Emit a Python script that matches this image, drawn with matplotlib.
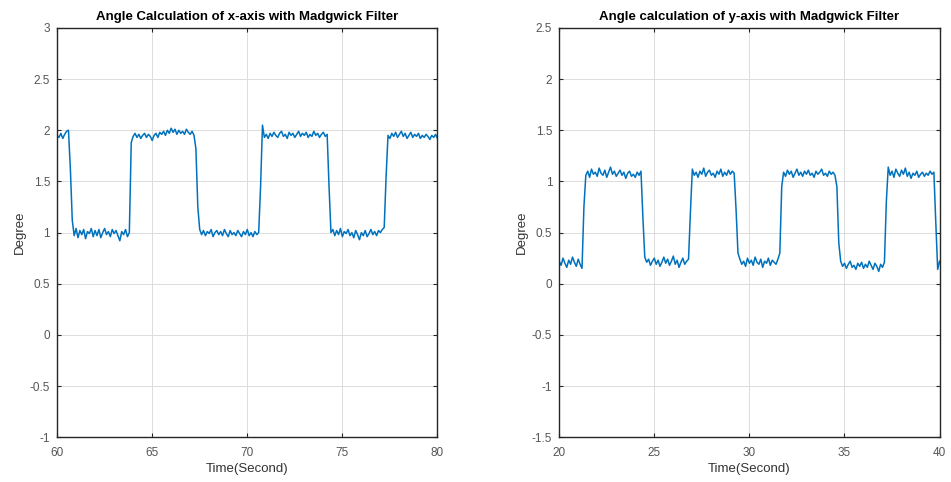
import matplotlib.pyplot as plt
import numpy as np

x_angle = [
    1.95, 1.93, 1.97, 1.92, 1.96, 1.99, 2.00,
    1.62, 1.12,
    0.97, 1.04, 0.95, 1.02, 0.98, 1.03, 0.94, 1.01, 0.99, 1.04,
    0.96, 1.02, 0.97, 1.03, 0.95, 1.00, 1.04, 0.98, 1.01, 0.96,
    1.03, 0.99, 1.02, 0.97, 0.92, 1.01, 0.98, 1.03, 0.96, 1.00,
    1.88,
    1.94, 1.97, 1.93, 1.96, 1.92, 1.95, 1.97, 1.93, 1.96, 1.94,
    1.90, 1.95, 1.97, 1.93, 1.98, 1.96, 1.99, 1.95, 2.00, 1.97,
    2.02, 1.98, 2.01, 1.96, 2.00, 1.97, 1.99, 1.96, 2.01, 1.98,
    1.96, 1.99, 1.95,
    1.82, 1.25,
    1.03, 0.98, 1.02, 0.97, 1.01, 0.99, 1.03, 0.96, 1.00, 1.02,
    0.98, 1.01, 0.97, 1.03, 0.99, 0.96, 1.02, 0.98, 1.00, 0.97,
    1.02, 0.99, 0.96, 1.01, 0.98, 1.03, 0.97, 1.00, 0.96, 1.01,
    0.98, 1.00,
    1.45, 2.05,
    1.93, 1.96, 1.92, 1.97, 1.94, 1.98, 1.95, 1.93, 1.97, 1.99,
    1.94, 1.96, 1.92, 1.98, 1.95, 1.97, 1.93, 1.96, 1.99, 1.94,
    1.97, 1.95, 1.98, 1.93, 1.96, 1.94, 1.99, 1.95, 1.97, 1.93,
    1.96, 1.98, 1.94, 1.96,
    1.45, 1.00,
    1.03, 0.97, 1.02, 0.98, 1.04, 0.96, 1.01, 0.99, 1.03, 0.97,
    1.00, 0.95, 1.02, 0.98, 0.93, 1.00, 0.97, 1.02, 0.96, 0.99,
    1.03, 0.98, 1.01, 0.97, 1.02, 1.00, 1.03, 1.05,
    1.55,
    1.95, 1.92, 1.97, 1.94, 1.98, 1.93, 1.96, 1.99, 1.94, 1.97,
    1.92, 1.95, 1.98, 1.93, 1.96, 1.94, 1.97, 1.92, 1.95, 1.93,
    1.96, 1.94, 1.91, 1.95, 1.93, 1.96, 1.92,
]

# y-axis angle, sampled every 0.1 s from 20 s to 40 s
y_angle = [
    0.22, 0.18, 0.25, 0.20, 0.16, 0.23, 0.19, 0.26, 0.21, 0.17, 0.24, 0.19, 0.15,
    0.75,
    1.06, 1.10, 1.04, 1.12, 1.07, 1.09, 1.05, 1.13, 1.08, 1.06,
    1.11, 1.04, 1.09, 1.14, 1.07, 1.10, 1.05, 1.08, 1.11, 1.06,
    1.09, 1.03, 1.08, 1.10, 1.05, 1.07, 1.04, 1.09, 1.06, 1.10,
    0.65,
    0.26, 0.21, 0.24, 0.18, 0.22, 0.25, 0.19, 0.23, 0.17, 0.21,
    0.26, 0.20, 0.24, 0.18, 0.22, 0.27, 0.19, 0.23, 0.16, 0.21,
    0.25, 0.19, 0.22, 0.24,
    0.70,
    1.12, 1.06, 1.09, 1.04, 1.10, 1.07, 1.13, 1.05, 1.09, 1.11,
    1.06, 1.08, 1.04, 1.10, 1.07, 1.12, 1.05, 1.09, 1.06, 1.11,
    1.07, 1.10, 1.08,
    0.72, 0.30,
    0.24, 0.19, 0.22, 0.17, 0.25, 0.20, 0.23, 0.18, 0.26, 0.21,
    0.19, 0.24, 0.16, 0.22, 0.20, 0.25, 0.18, 0.23, 0.21, 0.19, 0.24,
    0.30, 0.95,
    1.09, 1.05, 1.11, 1.07, 1.10, 1.04, 1.08, 1.12, 1.06, 1.09,
    1.05, 1.10, 1.07, 1.11, 1.06, 1.08, 1.04, 1.10, 1.07, 1.09,
    1.12, 1.06, 1.08, 1.05, 1.10, 1.07, 1.09, 1.06,
    0.95, 0.40,
    0.22, 0.17, 0.20, 0.15, 0.19, 0.22, 0.16, 0.18, 0.14, 0.20,
    0.17, 0.21, 0.15, 0.19, 0.16, 0.22, 0.18, 0.14, 0.20, 0.17,
    0.12, 0.19, 0.16, 0.21,
    0.80,
    1.14, 1.06, 1.10, 1.04, 1.12, 1.08, 1.05, 1.11, 1.07, 1.13,
    1.05, 1.09, 1.03, 1.08, 1.06, 1.10, 1.04, 1.07, 1.09, 1.05,
    1.08, 1.06, 1.10, 1.07, 1.09,
    0.60, 0.14, 0.22,
]

x_time = np.linspace(60, 80, len(x_angle))
y_time = np.linspace(20, 40, len(y_angle))

x_ticks = [60, 65, 70, 75, 80]
x_yticks = [-1, -0.5, 0, 0.5, 1, 1.5, 2, 2.5, 3]
y_ticks = [20, 25, 30, 35, 40]
y_yticks = [-1.5, -1, -0.5, 0, 0.5, 1, 1.5, 2, 2.5]

plt.rcParams['font.family'] = ['Liberation Sans', 'DejaVu Sans']

fig = plt.figure(figsize=(9.51, 4.82), dpi=100)
ax1 = fig.add_axes([0.060, 0.093, 0.400, 0.849])
ax2 = fig.add_axes([0.588, 0.093, 0.400, 0.849])

panels = [
    (ax1, x_time, x_angle, x_ticks, x_yticks, (60, 80), (-1, 3),
     'Angle Calculation of x-axis with Madgwick Filter'),
    (ax2, y_time, y_angle, y_ticks, y_yticks, (20, 40), (-1.5, 2.5),
     'Angle calculation of y-axis with Madgwick Filter'),
]

for ax, t, v, xt, yt, xl, yl, title in panels:
    ax.plot(t, v, color='#0072BD', linewidth=1.1)
    ax.set_xlim(*xl)
    ax.set_ylim(*yl)
    ax.set_xticks(xt)
    ax.set_yticks(yt)
    ax.set_yticklabels([f'{y:g}' for y in yt])
    ax.grid(True, color='#dcdcdc', linewidth=0.7)
    ax.set_axisbelow(True)
    ax.tick_params(direction='in', length=3, width=0.8, labelsize=8.5,
                   colors='#262626', labelcolor='#555555',
                   top=True, right=True)
    ax.tick_params(axis='x', pad=7)
    ax.tick_params(axis='y', pad=5)
    for s in ax.spines.values():
        s.set_color('#262626')
        s.set_linewidth(1.0)
    ax.set_title(title, fontsize=9.5, fontweight='bold', pad=6)
    ax.set_xlabel('Time(Second)', fontsize=9.5, color='#333333', labelpad=3)
    ax.set_ylabel('Degree', fontsize=9.5, color='#333333', labelpad=3)

fig.savefig('out.png', dpi=100)
